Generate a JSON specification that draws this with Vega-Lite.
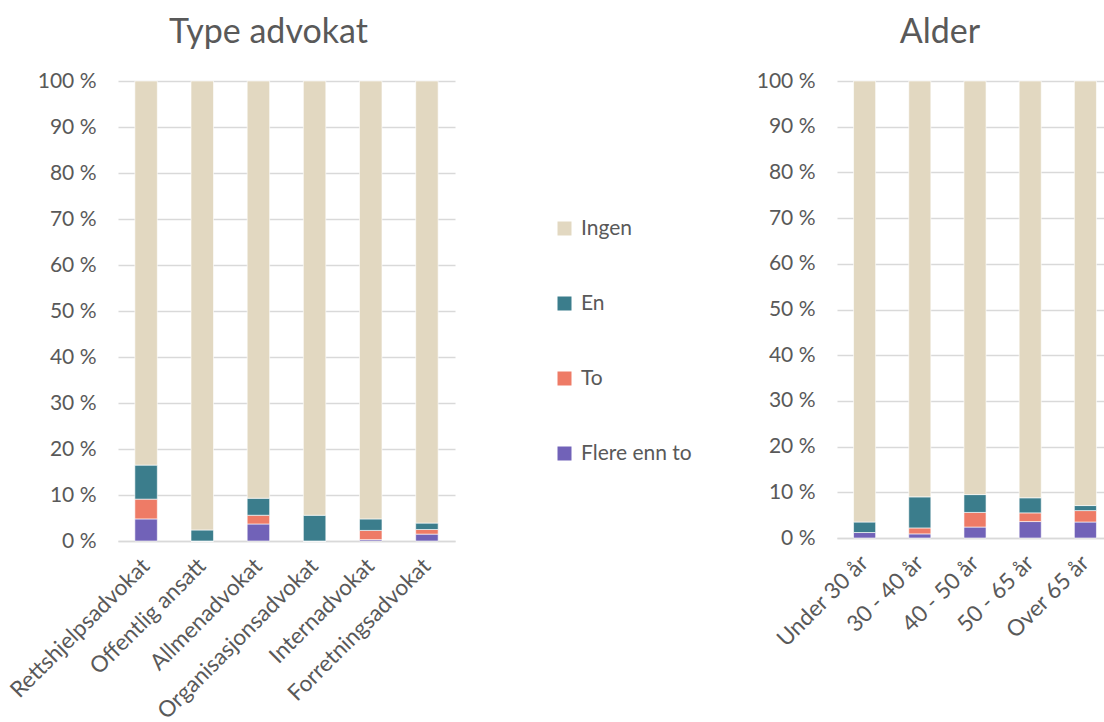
{
  "$schema": "https://vega.github.io/schema/vega-lite/v6.json",
  "background": "white",
  "padding": {"left": 6, "top": 16, "right": 0, "bottom": 0},
  "bounds": "flush",
  "spacing": 382,
  "config": {
    "font": "Lato",
    "view": {"stroke": null},
    "axis": {"labelColor": "#595959", "labelFont": "Lato", "labelFontSize": 21, "labelLimit": 400, "gridColor": "#D9D9D9", "gridWidth": 1.5, "domainColor": "#D9D9D9", "domainWidth": 1.5, "ticks": false, "title": null},
    "title": {"fontSize": 34, "font": "Lato", "color": "#595959", "fontWeight": "normal", "offset": 20},
    "legend": {"labelColor": "#595959", "labelFont": "Lato", "labelFontSize": 21, "labelLimit": 400}
  },
  "datasets": {
    "a": [
      {"g": "Rettshjelpsadvokat", "s": "Flere enn to", "k": 1, "v": 4.8},
      {"g": "Rettshjelpsadvokat", "s": "To", "k": 2, "v": 4.3},
      {"g": "Rettshjelpsadvokat", "s": "En", "k": 3, "v": 7.4},
      {"g": "Rettshjelpsadvokat", "s": "Ingen", "k": 4, "v": 83.5},
      {"g": "Offentlig ansatt", "s": "Flere enn to", "k": 1, "v": 0},
      {"g": "Offentlig ansatt", "s": "To", "k": 2, "v": 0},
      {"g": "Offentlig ansatt", "s": "En", "k": 3, "v": 2.4},
      {"g": "Offentlig ansatt", "s": "Ingen", "k": 4, "v": 97.6},
      {"g": "Allmenadvokat", "s": "Flere enn to", "k": 1, "v": 3.7},
      {"g": "Allmenadvokat", "s": "To", "k": 2, "v": 1.9},
      {"g": "Allmenadvokat", "s": "En", "k": 3, "v": 3.7},
      {"g": "Allmenadvokat", "s": "Ingen", "k": 4, "v": 90.7},
      {"g": "Organisasjonsadvokat", "s": "Flere enn to", "k": 1, "v": 0},
      {"g": "Organisasjonsadvokat", "s": "To", "k": 2, "v": 0},
      {"g": "Organisasjonsadvokat", "s": "En", "k": 3, "v": 5.6},
      {"g": "Organisasjonsadvokat", "s": "Ingen", "k": 4, "v": 94.4},
      {"g": "Internadvokat", "s": "Flere enn to", "k": 1, "v": 0.3},
      {"g": "Internadvokat", "s": "To", "k": 2, "v": 2.0},
      {"g": "Internadvokat", "s": "En", "k": 3, "v": 2.5},
      {"g": "Internadvokat", "s": "Ingen", "k": 4, "v": 95.2},
      {"g": "Forretningsadvokat", "s": "Flere enn to", "k": 1, "v": 1.5},
      {"g": "Forretningsadvokat", "s": "To", "k": 2, "v": 1.0},
      {"g": "Forretningsadvokat", "s": "En", "k": 3, "v": 1.4},
      {"g": "Forretningsadvokat", "s": "Ingen", "k": 4, "v": 96.1}
    ],
    "b": [
      {"g": "Under 30 år", "s": "Flere enn to", "k": 1, "v": 1.2},
      {"g": "Under 30 år", "s": "To", "k": 2, "v": 0},
      {"g": "Under 30 år", "s": "En", "k": 3, "v": 2.3},
      {"g": "Under 30 år", "s": "Ingen", "k": 4, "v": 96.5},
      {"g": "30 - 40 år", "s": "Flere enn to", "k": 1, "v": 0.9},
      {"g": "30 - 40 år", "s": "To", "k": 2, "v": 1.3},
      {"g": "30 - 40 år", "s": "En", "k": 3, "v": 6.8},
      {"g": "30 - 40 år", "s": "Ingen", "k": 4, "v": 91.0},
      {"g": "40 - 50 år", "s": "Flere enn to", "k": 1, "v": 2.4},
      {"g": "40 - 50 år", "s": "To", "k": 2, "v": 3.2},
      {"g": "40 - 50 år", "s": "En", "k": 3, "v": 3.9},
      {"g": "40 - 50 år", "s": "Ingen", "k": 4, "v": 90.5},
      {"g": "50 - 65 år", "s": "Flere enn to", "k": 1, "v": 3.6},
      {"g": "50 - 65 år", "s": "To", "k": 2, "v": 1.9},
      {"g": "50 - 65 år", "s": "En", "k": 3, "v": 3.3},
      {"g": "50 - 65 år", "s": "Ingen", "k": 4, "v": 91.2},
      {"g": "Over 65 år", "s": "Flere enn to", "k": 1, "v": 3.5},
      {"g": "Over 65 år", "s": "To", "k": 2, "v": 2.5},
      {"g": "Over 65 år", "s": "En", "k": 3, "v": 1.1},
      {"g": "Over 65 år", "s": "Ingen", "k": 4, "v": 92.9}
    ]
  },
  "resolve": {"legend": {"color": "independent"}, "scale": {"x": "independent"}},
  "hconcat": [
    {
      "title": {"text": "Type advokat", "dx": -18},
      "width": 337,
      "height": 460,
      "data": {"name": "a"},
      "mark": {"type": "bar", "stroke": "white", "strokeWidth": 0.6},
      "encoding": {
        "x": {"field": "g", "type": "nominal", "sort": null, "scale": {"paddingInner": 0.6, "paddingOuter": 0.3}, "axis": {"labelAngle": -45, "labelBaseline": "middle", "labelFontSize": 22.5, "labelPadding": 21, "domain": true}},
        "y": {"field": "v", "type": "quantitative", "stack": "zero", "scale": {"domain": [0, 100], "nice": false}, "axis": {"values": [0, 10, 20, 30, 40, 50, 60, 70, 80, 90, 100], "labelExpr": "datum.value + ' %'", "labelPadding": 22, "domain": false, "grid": true}},
        "color": {"field": "s", "type": "nominal", "scale": {"domain": ["Ingen", "En", "To", "Flere enn to"], "range": ["#E2D8C1", "#3B7D8C", "#EE7B66", "#7162B8"]},
          "legend": {"title": null, "orient": "none", "legendX": 436, "legendY": 137, "symbolType": "square", "symbolSize": 196, "symbolStrokeWidth": 0, "rowPadding": 53, "labelOffset": 6, "padding": 0}},
        "order": {"field": "k", "type": "quantitative", "sort": "ascending"}
      }
    },
    {
      "title": {"text": "Alder", "dx": -35},
      "width": 276,
      "height": 457,
      "data": {"name": "b"},
      "mark": {"type": "bar", "stroke": "white", "strokeWidth": 0.6},
      "encoding": {
        "x": {"field": "g", "type": "nominal", "sort": null, "scale": {"paddingInner": 0.6, "paddingOuter": 0.3}, "axis": {"labelAngle": -45, "labelBaseline": "middle", "labelFontSize": 22.5, "labelPadding": 21, "domain": true}},
        "y": {"field": "v", "type": "quantitative", "stack": "zero", "scale": {"domain": [0, 100], "nice": false}, "axis": {"values": [0, 10, 20, 30, 40, 50, 60, 70, 80, 90, 100], "labelExpr": "datum.value + ' %'", "labelPadding": 22, "domain": false, "grid": true}},
        "color": {"field": "s", "type": "nominal", "scale": {"domain": ["Ingen", "En", "To", "Flere enn to"], "range": ["#E2D8C1", "#3B7D8C", "#EE7B66", "#7162B8"]}, "legend": null},
        "order": {"field": "k", "type": "quantitative", "sort": "ascending"}
      }
    }
  ]
}
